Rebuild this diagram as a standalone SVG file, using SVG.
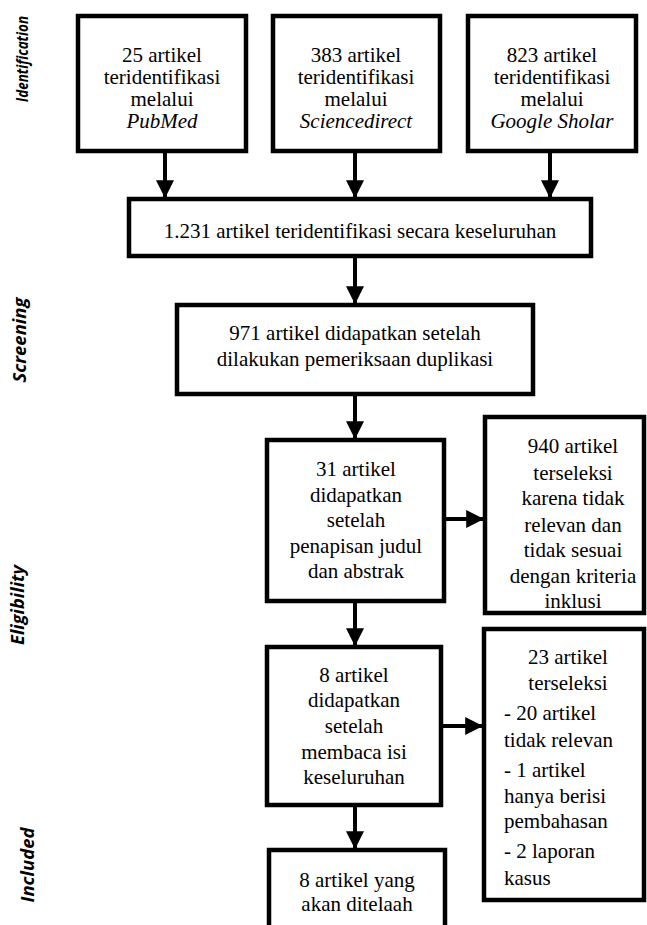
<svg xmlns="http://www.w3.org/2000/svg" width="647" height="925" viewBox="0 0 647 925">
<style>
.box{fill:#fff;stroke:#000;stroke-width:4.5}
text.t, text.t tspan{font-family:'Liberation Serif','Times New Roman',serif;font-size:21px;fill:#000}
.c{text-anchor:middle}
tspan.i{font-style:italic}
text.lab{font-family:'Open Sans','Noto Sans','Liberation Sans',sans-serif;font-size:17px;font-weight:bold;font-style:italic;fill:#000;text-anchor:middle}
.ln{stroke:#000;stroke-width:4;fill:none}
</style>
<defs>
<marker id="ah" markerWidth="4.5" markerHeight="4.5" refX="4.2" refY="2.25" orient="auto" markerUnits="strokeWidth">
<path d="M0,0 L4.5,2.25 L0,4.5 Z" fill="#000"/>
</marker>
</defs>
<rect width="647" height="925" fill="#fff"/>
<g id="labels">
<text class="lab" style="font-size:16px" transform="translate(28,59) rotate(-90)" textLength="86" lengthAdjust="spacingAndGlyphs">Identification</text>
<text class="lab" transform="translate(26,340) rotate(-90)" textLength="85" lengthAdjust="spacingAndGlyphs">Screening</text>
<text class="lab" transform="translate(24,605) rotate(-90)" textLength="80" lengthAdjust="spacingAndGlyphs">Eligibility</text>
<text class="lab" transform="translate(34,865) rotate(-90)" textLength="75" lengthAdjust="spacingAndGlyphs">Included</text>
</g>
<g id="connectors">
<line class="ln" x1="165" y1="153" x2="165" y2="197" marker-end="url(#ah)"/>
<line class="ln" x1="355" y1="153" x2="355" y2="197" marker-end="url(#ah)"/>
<line class="ln" x1="550" y1="153" x2="550" y2="197" marker-end="url(#ah)"/>
<line class="ln" x1="355" y1="258" x2="355" y2="303" marker-end="url(#ah)"/>
<line class="ln" x1="355" y1="396" x2="355" y2="438" marker-end="url(#ah)"/>
<line class="ln" x1="446" y1="519" x2="483" y2="519" marker-end="url(#ah)"/>
<line class="ln" x1="355" y1="603" x2="355" y2="645" marker-end="url(#ah)"/>
<line class="ln" x1="443" y1="726" x2="482" y2="726" marker-end="url(#ah)"/>
<line class="ln" x1="355" y1="807" x2="355" y2="848" marker-end="url(#ah)"/>
</g>
<g id="n_pubmed">
<rect class="box" x="78" y="16" width="168" height="135"/>
<text class="t c" x="162"><tspan x="162" y="62">25 artikel</tspan><tspan x="162" y="84">teridentifikasi</tspan><tspan x="162" y="106">melalui</tspan><tspan class="i" x="162" y="128">PubMed</tspan></text>
</g>
<g id="n_sciencedirect">
<rect class="box" x="273" y="16" width="167" height="135"/>
<text class="t c" x="356"><tspan x="356" y="62">383 artikel</tspan><tspan x="356" y="84">teridentifikasi</tspan><tspan x="356" y="106">melalui</tspan><tspan class="i" x="356" y="128">Sciencedirect</tspan></text>
</g>
<g id="n_scholar">
<rect class="box" x="468" y="16" width="168" height="135"/>
<text class="t c" x="552"><tspan x="552" y="62">823 artikel</tspan><tspan x="552" y="84">teridentifikasi</tspan><tspan x="552" y="106">melalui</tspan><tspan class="i" x="552" y="128">Google Sholar</tspan></text>
</g>
<g id="n_total">
<rect class="box" x="129" y="199" width="462" height="57"/>
<text class="t c" x="360" y="238">1.231 artikel teridentifikasi secara keseluruhan</text>
</g>
<g id="n_dedup">
<rect class="box" x="177" y="305" width="356" height="89"/>
<text class="t c" x="355"><tspan x="355" y="340">971 artikel didapatkan setelah</tspan><tspan x="355" y="366">dilakukan pemeriksaan duplikasi</tspan></text>
</g>
<g id="n_screen">
<rect class="box" x="267" y="440" width="177" height="161"/>
<text class="t c" x="356"><tspan x="356" y="476">31 artikel</tspan><tspan x="356" y="502">didapatkan</tspan><tspan x="356" y="527">setelah</tspan><tspan x="356" y="553">penapisan judul</tspan><tspan x="356" y="578">dan abstrak</tspan></text>
</g>
<g id="n_excl1">
<rect class="box" x="485" y="417" width="159" height="196"/>
<text class="t c" x="573"><tspan x="573" y="453">940 artikel</tspan><tspan x="573" y="480">terseleksi</tspan><tspan x="573" y="505">karena tidak</tspan><tspan x="573" y="532">relevan dan</tspan><tspan x="573" y="557">tidak sesuai</tspan><tspan x="573" y="583">dengan kriteria</tspan><tspan x="573" y="608">inklusi</tspan></text>
</g>
<g id="n_full">
<rect class="box" x="267" y="647" width="174" height="158"/>
<text class="t c" x="354"><tspan x="354" y="682">8 artikel</tspan><tspan x="354" y="707">didapatkan</tspan><tspan x="354" y="733">setelah</tspan><tspan x="354" y="759">membaca isi</tspan><tspan x="354" y="784">keseluruhan</tspan></text>
</g>
<g id="n_excl2">
<rect class="box" x="484" y="629" width="160" height="271"/>
<text class="t c" x="568"><tspan x="568" y="664">23 artikel</tspan><tspan x="568" y="690">terseleksi</tspan></text>
<text class="t" x="504"><tspan x="504" y="720">- 20 artikel</tspan><tspan x="504" y="747">tidak relevan</tspan><tspan x="504" y="777">- 1 artikel</tspan><tspan x="504" y="803">hanya berisi</tspan><tspan x="504" y="828">pembahasan</tspan><tspan x="504" y="858">- 2 laporan</tspan><tspan x="504" y="885">kasus</tspan></text>
</g>
<g id="n_included">
<rect class="box" x="269" y="850" width="176" height="90"/>
<text class="t c" x="357"><tspan x="357" y="887">8 artikel yang</tspan><tspan x="357" y="911">akan ditelaah</tspan></text>
</g>
</svg>
